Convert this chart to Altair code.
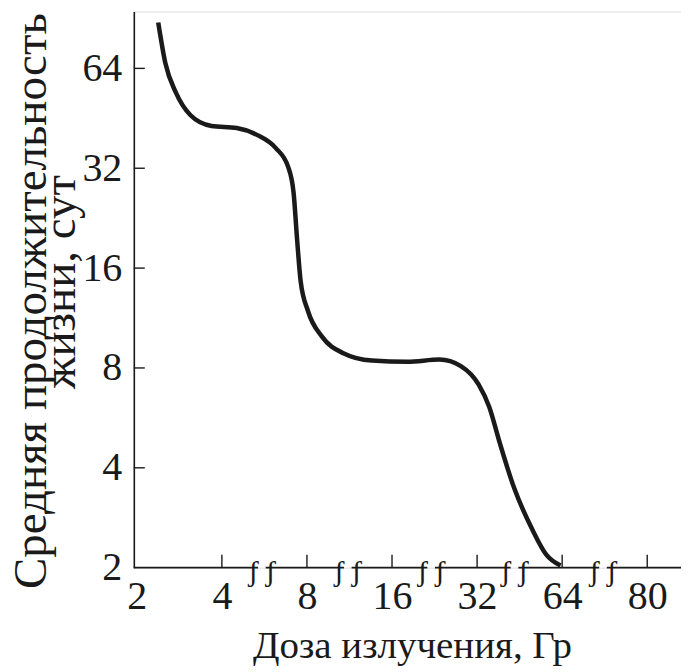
import altair as alt
import pandas as pd

# x positions are equally spaced (broken axis); labels give the dose, Gy
dose_labels = ["2", "4", "8", "16", "32", "64", "80"]
dose_pos = [0, 1, 2, 3, 4, 5, 6]
y_tick_values = [2, 4, 8, 16, 32, 64]
breaks = [1.47, 2.48, 3.46, 4.44, 5.48]

curve_x = [0.252, 0.336, 0.461, 0.629, 0.879, 1.174, 1.424, 1.634, 1.779, 1.843,
           1.885, 1.926, 2.011, 2.177, 2.428, 2.763, 3.180, 3.559, 3.809, 4.019,
           4.143, 4.270, 4.437, 4.645, 4.813, 4.981]
curve_y = [88.0, 66.3, 54.0, 46.3, 42.9, 42.3, 40.2, 36.8, 32.3, 27.0,
           19.4, 14.6, 11.9, 9.94, 8.86, 8.42, 8.35, 8.48, 8.10, 7.12,
           6.10, 4.72, 3.47, 2.62, 2.19, 2.03]

W, H = 548, 557
XMIN, XMAX = -0.0352, 6.397
YMIN, YMAX = 2, 95.0
FONT = "Liberation Serif"
INK = "#1a1a1a"

xs = alt.Scale(domain=[XMIN, XMAX], nice=False, zero=False)
ys = alt.Scale(type="log", base=2, domain=[YMIN, YMAX], nice=False)

curve_df = pd.DataFrame({"x": curve_x, "y": curve_y})
gap = 0.045
seg_start = [XMIN] + [b + gap for b in breaks]
seg_end = [b - gap for b in breaks] + [XMAX]
seg_df = pd.DataFrame({"x": seg_start, "x2": seg_end})
brk_df = pd.DataFrame({"x": breaks})
xt_df = pd.DataFrame({"x": dose_pos[1:]})
yt_df = pd.DataFrame({"y": y_tick_values[1:]})

label_expr = "[" + ",".join("'%s'" % s for s in dose_labels) + "][datum.value]"

base_axes = alt.Chart(curve_df).mark_line(opacity=0).encode(
    x=alt.X("x:Q", scale=xs,
            axis=alt.Axis(values=dose_pos, labelExpr=label_expr, domain=False,
                          ticks=False, grid=False, title=None, labelFont=FONT,
                          labelFontSize=40, labelColor=INK, labelPadding=9,
                          labelFlush=False, labelOverlap=False)),
    y=alt.Y("y:Q", scale=ys,
            axis=alt.Axis(values=y_tick_values, domain=True, domainColor=INK,
                          domainWidth=1.6, ticks=False, grid=False, title=None,
                          labelFont=FONT, labelFontSize=40, labelColor=INK,
                          labelPadding=12, labelFlush=False, labelOverlap=False)),
)

curve = alt.Chart(curve_df).mark_line(
    interpolate="monotone", color=INK, strokeWidth=4.5, strokeCap="butt"
).encode(x=alt.X("x:Q", scale=xs), y=alt.Y("y:Q", scale=ys))

xaxis_line = alt.Chart(seg_df).mark_rule(color=INK, strokeWidth=1.6).encode(
    x=alt.X("x:Q", scale=xs), x2="x2:Q", y=alt.value(H)
)

brk = alt.Chart(brk_df).mark_text(
    text="ʃ ʃ", font=FONT, fontSize=30, color=INK, baseline="middle", align="center"
).encode(x=alt.X("x:Q", scale=xs), y=alt.value(H + 4))

xticks = alt.Chart(xt_df).mark_rule(color=INK, strokeWidth=1.4).encode(
    x=alt.X("x:Q", scale=xs), y=alt.value(H), y2=alt.value(H - 13)
)

yticks = alt.Chart(yt_df).mark_rule(color=INK, strokeWidth=1.4).encode(
    y=alt.Y("y:Q", scale=ys), x=alt.value(0), x2=alt.value(11)
)

xtitle = alt.Chart(pd.DataFrame({"t": ["Доза излучения, Гр"]})).mark_text(
    font=FONT, fontSize=39, color=INK, align="center", baseline="alphabetic"
).encode(text="t:N", x=alt.value(279), y=alt.value(647))

ytitle1 = alt.Chart(pd.DataFrame({"t": ["Средняя продолжительность"]})).mark_text(
    font=FONT, fontSize=47, color=INK, align="center", baseline="alphabetic", angle=270
).encode(text="t:N", x=alt.value(-88), y=alt.value(290))

ytitle2 = alt.Chart(pd.DataFrame({"t": ["жизни, сут"]})).mark_text(
    font=FONT, fontSize=47, color=INK, align="center", baseline="alphabetic", angle=270
).encode(text="t:N", x=alt.value(-59), y=alt.value(271))

chart = alt.layer(
    base_axes, xaxis_line, xticks, yticks, brk, curve, xtitle, ytitle1, ytitle2
).properties(
    width=W, height=H,
    autosize=alt.AutoSizeParams(type="none"),
    padding={"left": 126, "top": 3, "right": 0, "bottom": 100},
).configure_view(stroke=None).configure(background="white")

chart.save("out.html", embed_options={"renderer": "svg", "actions": False})
